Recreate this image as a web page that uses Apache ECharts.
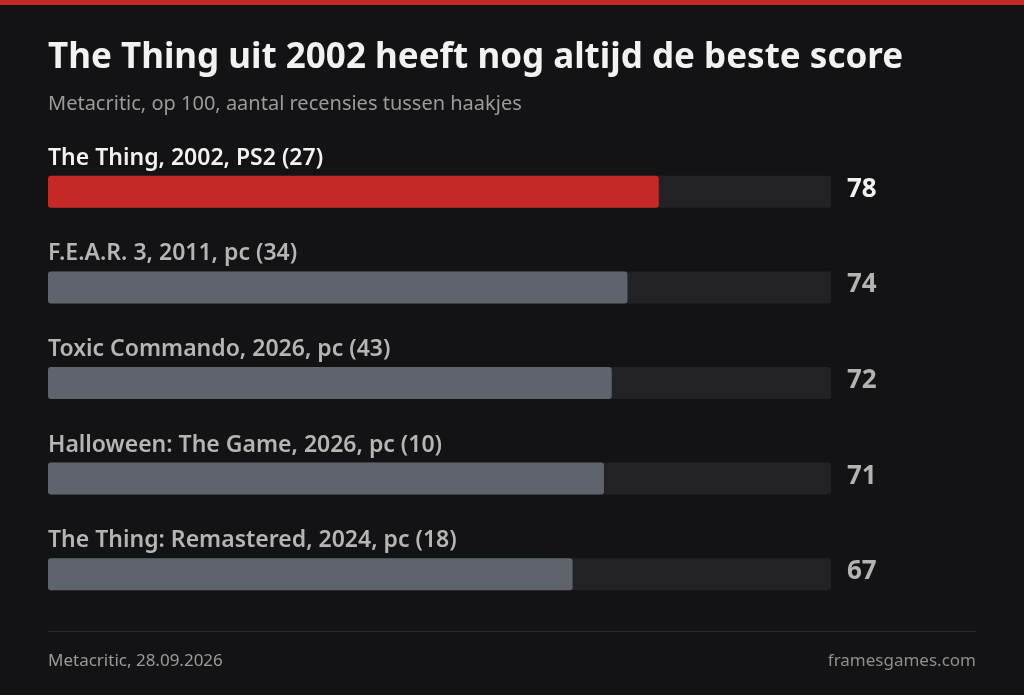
<!DOCTYPE html>
<html>
<head>
<meta charset="utf-8">
<style>
  html, body { margin: 0; padding: 0; background: #131315; }
  #main { width: 1024px; height: 695px; }
</style>
</head>
<body>
<div id="main"></div>
<script src="https://cdn.jsdelivr.net/npm/echarts@6/dist/echarts.min.js"></script>
<script>
  // data
  var games = [
    'The Thing, 2002, PS2 (27)',
    'F.E.A.R. 3, 2011, pc (34)',
    'Toxic Commando, 2026, pc (43)',
    'Halloween: The Game, 2026, pc (10)',
    'The Thing: Remastered, 2024, pc (18)'
  ];
  var scores = [78, 74, 72, 71, 67];
  var maxScore = 100;

  var titleText = 'The Thing uit 2002 heeft nog altijd de beste score';
  var subText = 'Metacritic, op 100, aantal recensies tussen haakjes';
  var sourceText = 'Metacritic, 28.09.2026';
  var siteText = 'framesgames.com';

  var font = '"Noto Sans", sans-serif';
  var myChart = echarts.init(document.getElementById('main'));

  var option = {
    backgroundColor: '#131315',
    animation: false,
    title: [{
      text: titleText,
      left: 48,
      top: 41,
      padding: 0,
      textStyle: { color: '#f2f2f2', fontSize: 35, fontWeight: 'bold', fontFamily: font }
    }, {
      text: subText,
      left: 48,
      top: 94,
      padding: 0,
      textStyle: { color: '#9b9b9b', fontSize: 20, fontWeight: 'normal', fontFamily: font }
    }, {
      text: sourceText,
      left: 48,
      top: 653,
      padding: 0,
      textStyle: { color: '#9a9a9a', fontSize: 17, fontWeight: 'normal', fontFamily: font }
    }, {
      text: siteText,
      right: 48,
      top: 653,
      padding: 0,
      textStyle: { color: '#8e8e8e', fontSize: 17, fontWeight: 'normal', fontFamily: font }
    }],
    graphic: [{
      type: 'rect',
      shape: { x: 0, y: 0, width: 1024, height: 5 },
      style: { fill: '#c62828' }
    }, {
      type: 'line',
      shape: { x1: 48, y1: 631.5, x2: 976, y2: 631.5 },
      style: { stroke: '#2a2a2e', lineWidth: 1 }
    }],
    grid: {
      left: 48,
      right: 193,
      top: 144,
      height: 478
    },
    xAxis: {
      type: 'value',
      min: 0,
      max: maxScore,
      show: false
    },
    yAxis: [{
      type: 'category',
      inverse: true,
      data: games,
      show: false
    }, {
      type: 'category',
      inverse: true,
      position: 'right',
      data: scores.map(String),
      axisLine: { show: false },
      axisTick: { show: false },
      axisLabel: {
        margin: 16,
        align: 'left',
        padding: [0, 0, 5, 0],
        fontFamily: font,
        fontSize: 26,
        fontWeight: 'bold',
        formatter: function (v, i) {
          return i === 0 ? '{a|' + v + '}' : '{b|' + v + '}';
        },
        rich: {
          a: { color: '#f2f2f2', fontSize: 26, fontWeight: 'bold', fontFamily: font },
          b: { color: '#b3b3b3', fontSize: 26, fontWeight: 'bold', fontFamily: font }
        }
      }
    }],
    series: [{
      type: 'bar',
      data: scores,
      barWidth: 32,
      showBackground: true,
      backgroundStyle: { color: '#222226', borderRadius: 3 },
      itemStyle: {
        borderRadius: 3,
        color: function (p) { return p.dataIndex === 0 ? '#c62828' : '#5f646c'; }
      },
      label: {
        show: true,
        position: [0, -29],
        align: 'left',
        verticalAlign: 'top',
        fontFamily: font,
        fontSize: 23,
        fontWeight: 600,
        formatter: function (p) {
          return p.dataIndex === 0 ? '{a|' + p.name + '}' : '{b|' + p.name + '}';
        },
        rich: {
          a: { color: '#f2f2f2', fontSize: 23, fontWeight: 600, fontFamily: font },
          b: { color: '#b5b5b5', fontSize: 23, fontWeight: 600, fontFamily: font }
        }
      }
    }]
  };

  myChart.setOption(option);
</script>
</body>
</html>
